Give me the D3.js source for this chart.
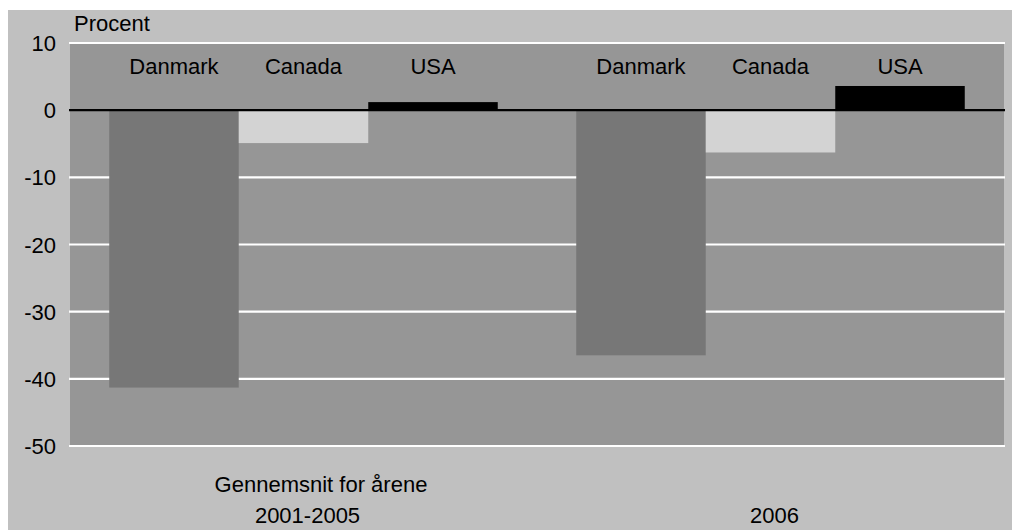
<!DOCTYPE html>
<html><head><meta charset="utf-8">
<script src="https://cdn.jsdelivr.net/npm/d3@7"></script>
<style>
html,body{margin:0;padding:0;background:#fff;}
svg{display:block;font-family:"Liberation Sans",Arial,sans-serif;}
</style></head>
<body>
<script>
const groups = ["2001-2005", "2006"];
const groupLine1 = ["Gennemsnit for årene", ""];
const countries = ["Danmark", "Canada", "USA"];
const danmark = [-41.3, -36.5];
const canada = [-4.9, -6.3];
const usa = [1.2, 3.6];
const yTicks = [10, 0, -10, -20, -30, -40, -50];
const colors = {Danmark: "#777777", Canada: "#d3d3d3", USA: "#000000"};

const seriesByCountry = {Danmark: danmark, Canada: canada, USA: usa};
const W = 1012, H = 530;
const svg = d3.select("body").append("svg").attr("width", W).attr("height", H);

svg.append("rect").attr("x", 8).attr("y", 10).attr("width", W - 8).attr("height", H - 10).attr("fill", "#c0c0c0");

const y = d3.scaleLinear().domain([-50, 10]).range([446, 43]);
const x0 = d3.scaleBand().domain(groups).range([70, 1004]).padding(0);
const x1 = d3.scaleBand().domain(countries).range([0, x0.bandwidth()]).paddingInner(0).paddingOuter(0.303);

// plot area
svg.append("rect").attr("x", 70).attr("y", y(10)).attr("width", 1004 - 70).attr("height", y(-50) - y(10)).attr("fill", "#969696");

// gridlines
svg.append("g").selectAll("line").data(yTicks.filter(d => d !== 0)).join("line")
  .attr("x1", 69).attr("x2", 1005).attr("y1", d => y(d)).attr("y2", d => y(d))
  .attr("stroke", "#fff").attr("stroke-width", 2.2);

// bars
const data = [];
groups.forEach((g, gi) => countries.forEach(c => data.push({g, c, v: seriesByCountry[c][gi]})));
svg.append("g").selectAll("rect").data(data).join("rect")
  .attr("x", d => x0(d.g) + x1(d.c))
  .attr("width", x1.bandwidth())
  .attr("y", d => y(Math.max(0, d.v)))
  .attr("height", d => Math.abs(y(d.v) - y(0)))
  .attr("fill", d => colors[d.c]);

// zero line
svg.append("line").attr("x1", 69).attr("x2", 1005).attr("y1", y(0)).attr("y2", y(0))
  .attr("stroke", "#000").attr("stroke-width", 2.2);

// y tick labels
svg.append("g").selectAll("text").data(yTicks).join("text")
  .attr("x", 56).attr("y", d => y(d) + 8).attr("text-anchor", "end")
  .attr("font-size", 22).attr("fill", "#000").text(d => d);

svg.append("text").attr("x", 74).attr("y", 31).attr("font-size", 22).text("Procent");

// bar labels
svg.append("g").selectAll("text").data(data).join("text")
  .attr("x", d => x0(d.g) + x1(d.c) + x1.bandwidth() / 2)
  .attr("y", 74).attr("text-anchor", "middle").attr("font-size", 22).text(d => d.c);

// category labels
svg.append("g").selectAll("text").data(groups).join("text")
  .attr("x", d => x0(d) + x0.bandwidth() / 2 + 4).attr("y", 523)
  .attr("text-anchor", "middle").attr("font-size", 22).text(d => d);
svg.append("g").selectAll("text").data(groups).join("text")
  .attr("x", d => x0(d) + x0.bandwidth() / 2 + 17.5).attr("y", 492)
  .attr("text-anchor", "middle").attr("font-size", 22).text((d, i) => groupLine1[i]);
</script>
</body></html>
